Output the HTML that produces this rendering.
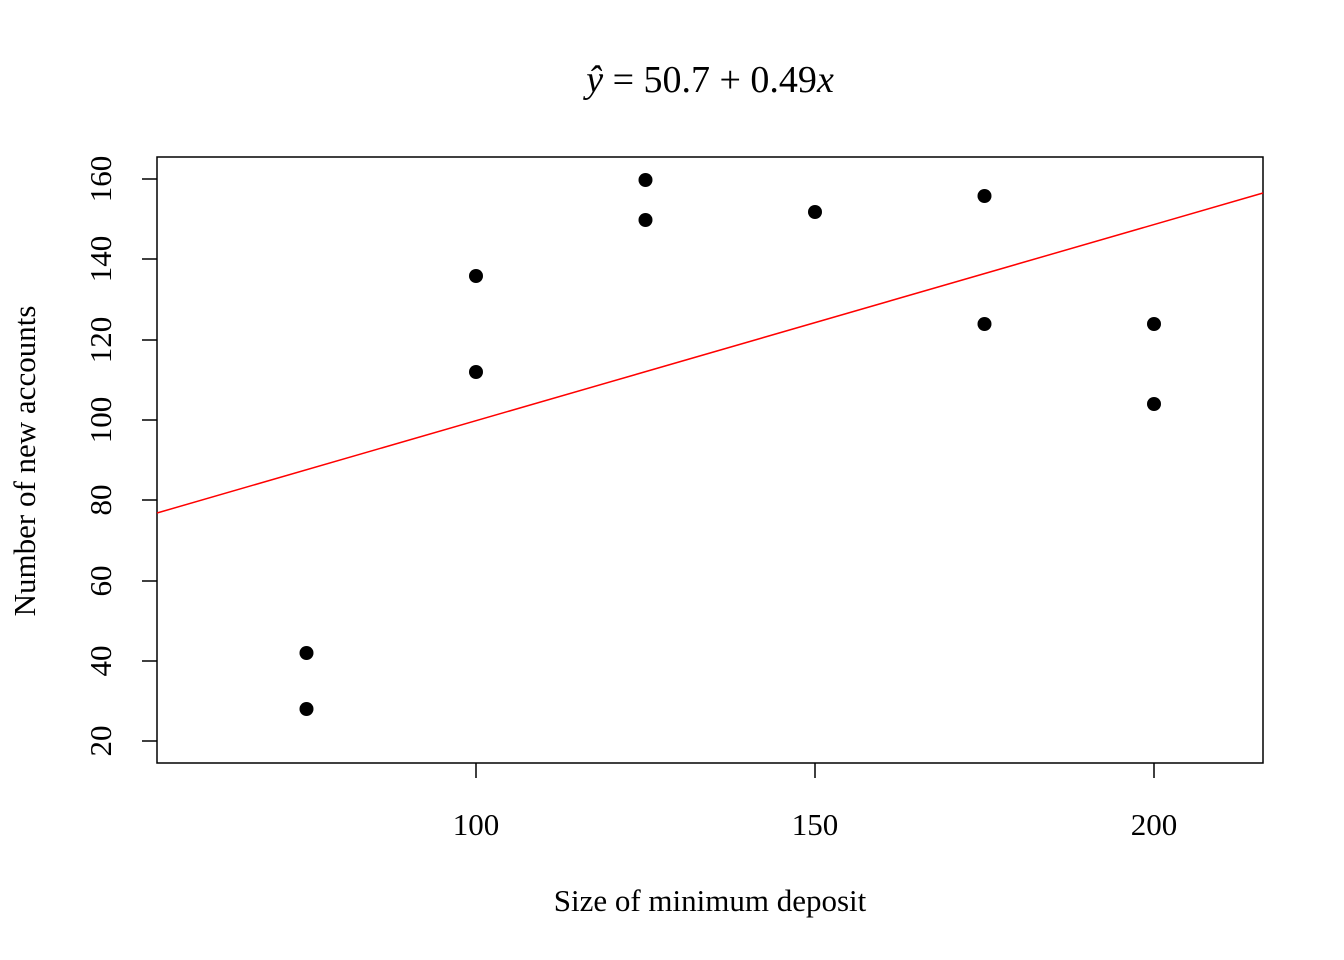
<!DOCTYPE html>
<html><head><meta charset="utf-8"><style>
html,body{margin:0;padding:0;background:#fff;}
svg{display:block;font-family:"Liberation Serif",serif;}
</style></head><body>
<svg width="1344" height="960" viewBox="0 0 1344 960" xmlns="http://www.w3.org/2000/svg">
<rect width="1344" height="960" fill="#fff"/>
<text x="710" y="92" font-size="38" text-anchor="middle"><tspan font-style="italic">ŷ</tspan> = 50.7 + 0.49<tspan font-style="italic">x</tspan></text>
<rect x="157" y="157" width="1106" height="606" fill="none" stroke="#000" stroke-width="1.5"/>
<line x1="157" y1="513" x2="1263" y2="193" stroke="#ff0000" stroke-width="1.5"/>
<g stroke="#000" stroke-width="1.5">
<line x1="476" y1="763" x2="476" y2="778"/>
<line x1="815" y1="763" x2="815" y2="778"/>
<line x1="1154" y1="763" x2="1154" y2="778"/>
<line x1="142" y1="741" x2="157" y2="741"/>
<line x1="142" y1="661" x2="157" y2="661"/>
<line x1="142" y1="581" x2="157" y2="581"/>
<line x1="142" y1="500" x2="157" y2="500"/>
<line x1="142" y1="420" x2="157" y2="420"/>
<line x1="142" y1="340" x2="157" y2="340"/>
<line x1="142" y1="259" x2="157" y2="259"/>
<line x1="142" y1="179" x2="157" y2="179"/>
</g>
<g font-size="31" text-anchor="middle">
<text x="476" y="835">100</text>
<text x="815" y="835">150</text>
<text x="1154" y="835">200</text>
<text x="710" y="911">Size of minimum deposit</text>
</g>
<g font-size="31" text-anchor="middle">
<text transform="translate(111,741) rotate(-90)">20</text>
<text transform="translate(111,661) rotate(-90)">40</text>
<text transform="translate(111,581) rotate(-90)">60</text>
<text transform="translate(111,500) rotate(-90)">80</text>
<text transform="translate(111,420) rotate(-90)">100</text>
<text transform="translate(111,340) rotate(-90)">120</text>
<text transform="translate(111,259) rotate(-90)">140</text>
<text transform="translate(111,179) rotate(-90)">160</text>
<text transform="translate(35,461) rotate(-90)">Number of new accounts</text>
</g>
<g fill="#000">
<circle cx="306.5" cy="653" r="7"/>
<circle cx="306.5" cy="709" r="7"/>
<circle cx="476" cy="276" r="7"/>
<circle cx="476" cy="372" r="7"/>
<circle cx="645.5" cy="180" r="7"/>
<circle cx="645.5" cy="220" r="7"/>
<circle cx="815" cy="212" r="7"/>
<circle cx="984.5" cy="196" r="7"/>
<circle cx="984.5" cy="324" r="7"/>
<circle cx="1154" cy="324" r="7"/>
<circle cx="1154" cy="404" r="7"/>
</g>
</svg>
</body></html>
